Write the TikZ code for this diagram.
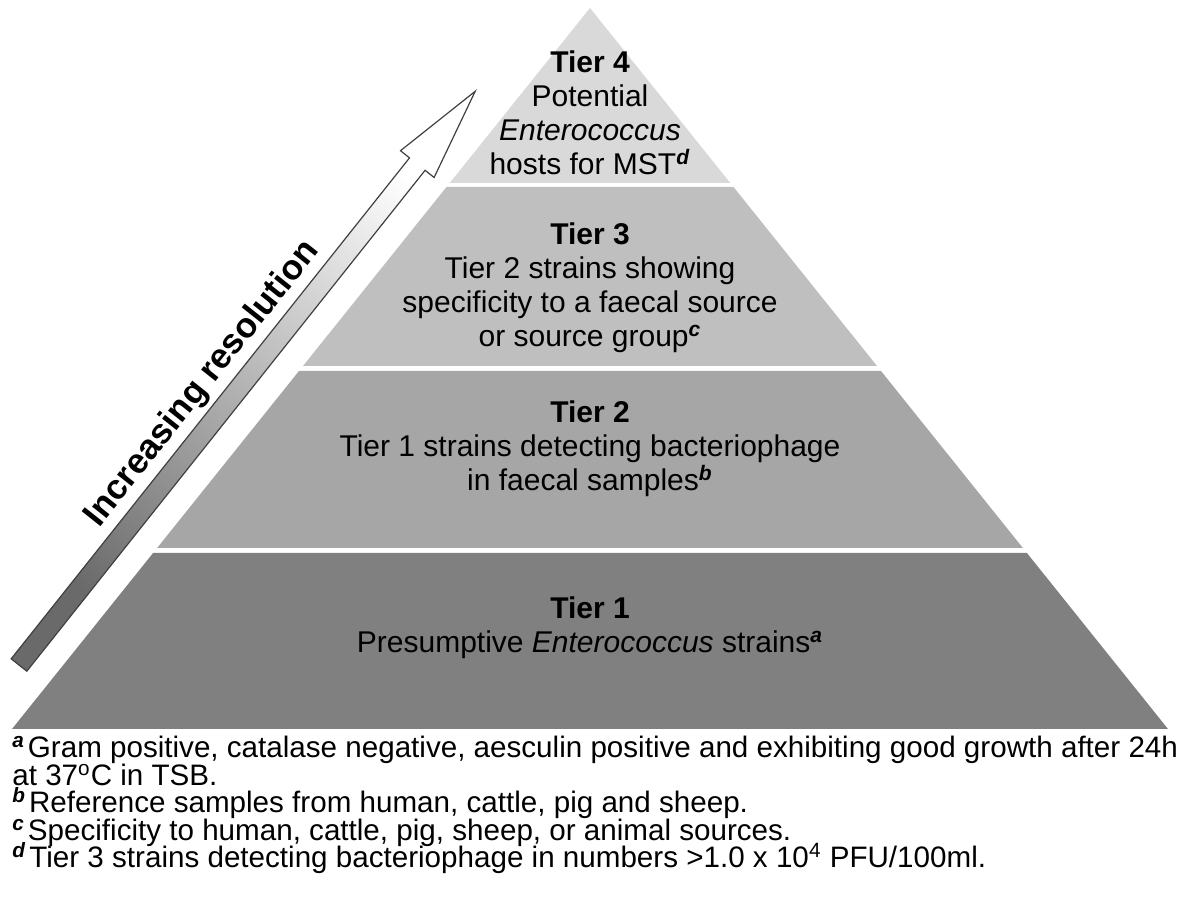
\documentclass[tikz,border=0pt]{standalone}
\usepackage{fontspec}
\setmainfont{Liberation Sans}
\definecolor{tfour}{HTML}{D9D9D9}
\definecolor{tthree}{HTML}{BFBFBF}
\definecolor{ttwo}{HTML}{A6A6A6}
\definecolor{tone}{HTML}{808080}
\definecolor{arrowline}{HTML}{404040}
\definecolor{arrowdark}{HTML}{6A6A6A}
\newcommand{\fnmark}[1]{\textsuperscript{\textbf{\textit{#1}}}}
\newcommand{\notemark}[1]{\textsuperscript{\textbf{\textit{#1}}}\hspace{1.5pt}}
\begin{document}
\begin{tikzpicture}[x=0.5pt,y=-0.5pt,
  tiertext/.style={align=center, inner sep=0pt, font=\fontsize{15}{17}\selectfont, text=black},
  notetext/.style={anchor=base west, inner sep=0pt, font=\fontsize{14.8}{14}\selectfont, text=black},
  risetext/.style={inner sep=0pt, font=\fontsize{17.5}{20}\selectfont\bfseries, text=black, rotate=51.5},
  layer/.style={draw=none}]
\useasboundingbox (0,0) rectangle (1190,897);
% pyramid layers
\fill[layer, tfour]  (590,8) -- (730.3,183) -- (449.7,183) -- cycle;
\fill[layer, tthree] (446.5,187) -- (733.5,187) -- (877,366) -- (303,366) -- cycle;
\fill[layer, ttwo]   (299,371) -- (881,371) -- (1022.9,548) -- (157.1,548) -- cycle;
\fill[layer, tone]   (153.1,553) -- (1026.9,553) -- (1168,729) -- (12,729) -- cycle;
% arrow
\path[draw=arrowline, line width=0.6pt, line join=miter, shading=axis,
  top color=white, bottom color=arrowdark, shading angle=-38.5]
  (11.2,658.8) -- (409.5,157.9) -- (400.5,150.7) -- (475.2,91.3)
  -- (434.1,177.5) -- (425.1,170.3) -- (26.8,671.2) -- cycle;
\node[risetext] (rise) at (202.5,384) {Increasing resolution};
% tier texts
\node[tiertext] (t4) at (590,113) {\textbf{Tier 4}\\Potential\\\textit{Enterococcus}\\hosts for MST\fnmark{d}};
\node[tiertext] (t3) at (590,288) {\textbf{Tier 3}\\Tier 2 strains showing\\specificity to a faecal source\\or source group\fnmark{c}};
\node[tiertext] (t2) at (590,449) {\textbf{Tier 2}\\Tier 1 strains detecting bacteriophage\\in faecal samples\fnmark{b}};
\node[tiertext] (t1) at (590,628) {\textbf{Tier 1}\\Presumptive \textit{Enterococcus} strains\fnmark{a}};
% footnotes
\node[notetext] (na) at (12,758) {\notemark{a}Gram positive, catalase negative, aesculin positive and exhibiting good growth after 24h};
\node[notetext] (na2) at (12,785.5) {at 37\textsuperscript{o}C in TSB.};
\node[notetext] (nb) at (12,813) {\notemark{b}Reference samples from human, cattle, pig and sheep.};
\node[notetext] (nc) at (12,840.5) {\notemark{c}Specificity to human, cattle, pig, sheep, or animal sources.};
\node[notetext] (nd) at (12,868) {\notemark{d}Tier 3 strains detecting bacteriophage in numbers >1.0 x 10\textsuperscript{4} PFU/100ml.};
\end{tikzpicture}
\end{document}
